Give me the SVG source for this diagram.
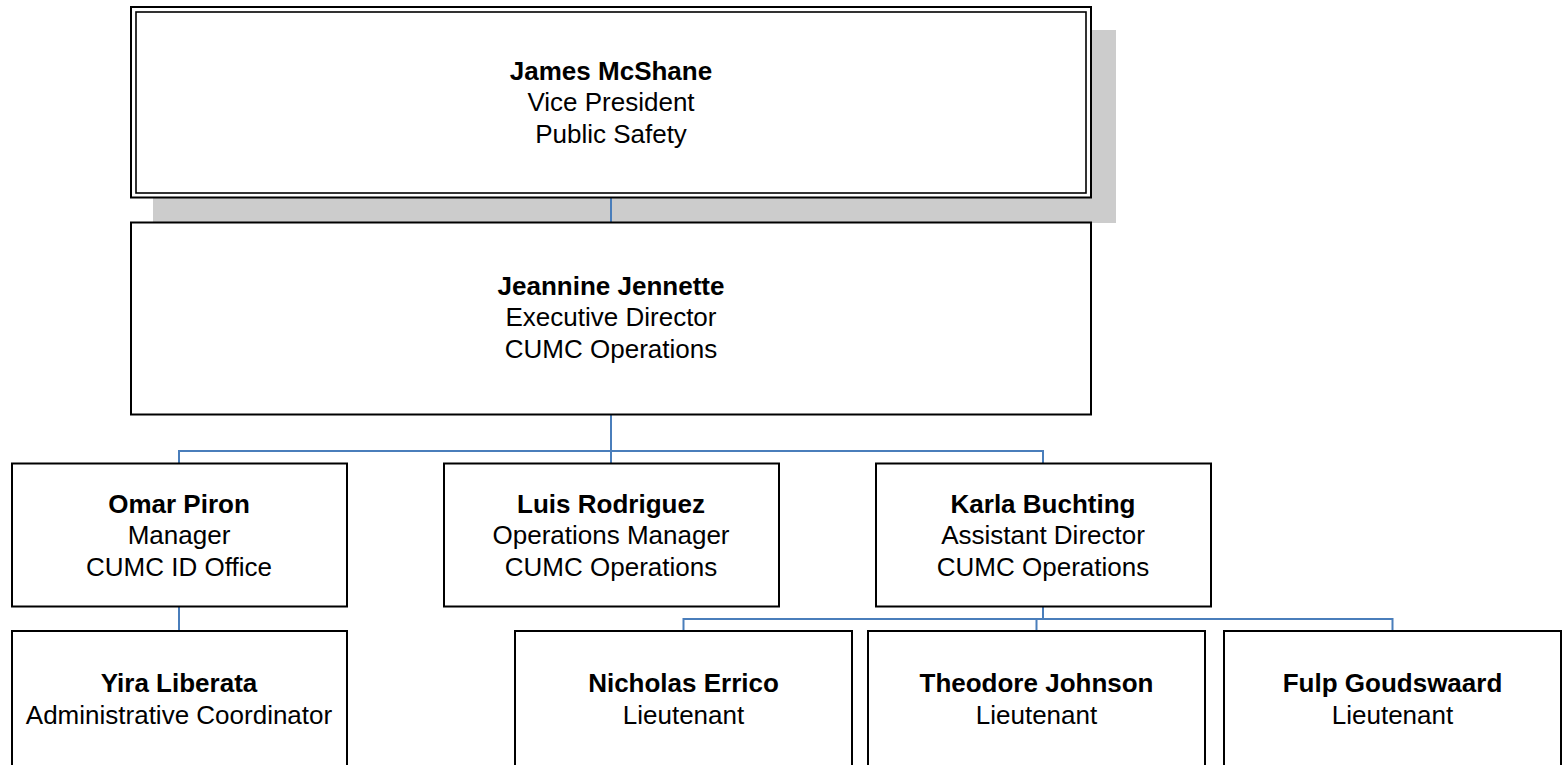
<svg xmlns="http://www.w3.org/2000/svg" width="1566" height="765" viewBox="0 0 1566 765">
<style>
.box{fill:#ffffff;stroke:#000000;stroke-width:2}
.conn{fill:none;stroke:#4a7ebb;stroke-width:2}
text{font-family:"Liberation Sans",Arial,sans-serif;font-size:26px;fill:#000000;text-anchor:middle}
.b{font-weight:bold}
</style>
<rect x="153" y="30" width="963" height="193" fill="#cccccc"/>
<g id="connectors">
<path class="conn" d="M611,197 V223"/>
<path class="conn" d="M611,414 V451 M179,463 V451 H1043 V463 M611,451 V463"/>
<path class="conn" d="M179,607 V631"/>
<path class="conn" d="M1043,607 V619 M683.5,631 V619 H1392.5 V631 M1036.5,619 V631"/>
</g>
<g id="james">
<rect class="box" x="131" y="7" width="960" height="190.5"/>
<rect x="136" y="12" width="950" height="181" fill="none" stroke="#000" stroke-width="1.6"/>
<text x="611" y="79.5" class="b">James McShane</text>
<text x="611" y="111">Vice President</text>
<text x="611" y="142.5">Public Safety</text>
</g>
<g id="jeannine">
<rect class="box" x="131" y="222.5" width="960" height="192"/>
<text x="611" y="294.5" class="b">Jeannine Jennette</text>
<text x="611" y="326">Executive Director</text>
<text x="611" y="357.5">CUMC Operations</text>
</g>
<g id="omar">
<rect class="box" x="12" y="463.5" width="335" height="143"/>
<text x="179" y="512.5" class="b">Omar Piron</text>
<text x="179" y="544">Manager</text>
<text x="179" y="575.5">CUMC ID Office</text>
</g>
<g id="luis">
<rect class="box" x="444" y="463.5" width="335" height="143"/>
<text x="611" y="512.5" class="b">Luis Rodriguez</text>
<text x="611" y="544">Operations Manager</text>
<text x="611" y="575.5">CUMC Operations</text>
</g>
<g id="karla">
<rect class="box" x="876" y="463.5" width="335" height="143"/>
<text x="1043" y="512.5" class="b">Karla Buchting</text>
<text x="1043" y="544">Assistant Director</text>
<text x="1043" y="575.5">CUMC Operations</text>
</g>
<g id="yira">
<rect class="box" x="12" y="631" width="335" height="150"/>
<text x="179" y="692" class="b">Yira Liberata</text>
<text x="179" y="723.5">Administrative Coordinator</text>
</g>
<g id="nicholas">
<rect class="box" x="515" y="631" width="337" height="150"/>
<text x="683.5" y="692" class="b">Nicholas Errico</text>
<text x="683.5" y="723.5">Lieutenant</text>
</g>
<g id="theodore">
<rect class="box" x="868" y="631" width="337" height="150"/>
<text x="1036.5" y="692" class="b">Theodore Johnson</text>
<text x="1036.5" y="723.5">Lieutenant</text>
</g>
<g id="fulp">
<rect class="box" x="1224" y="631" width="337" height="150"/>
<text x="1392.5" y="692" class="b">Fulp Goudswaard</text>
<text x="1392.5" y="723.5">Lieutenant</text>
</g>
</svg>
